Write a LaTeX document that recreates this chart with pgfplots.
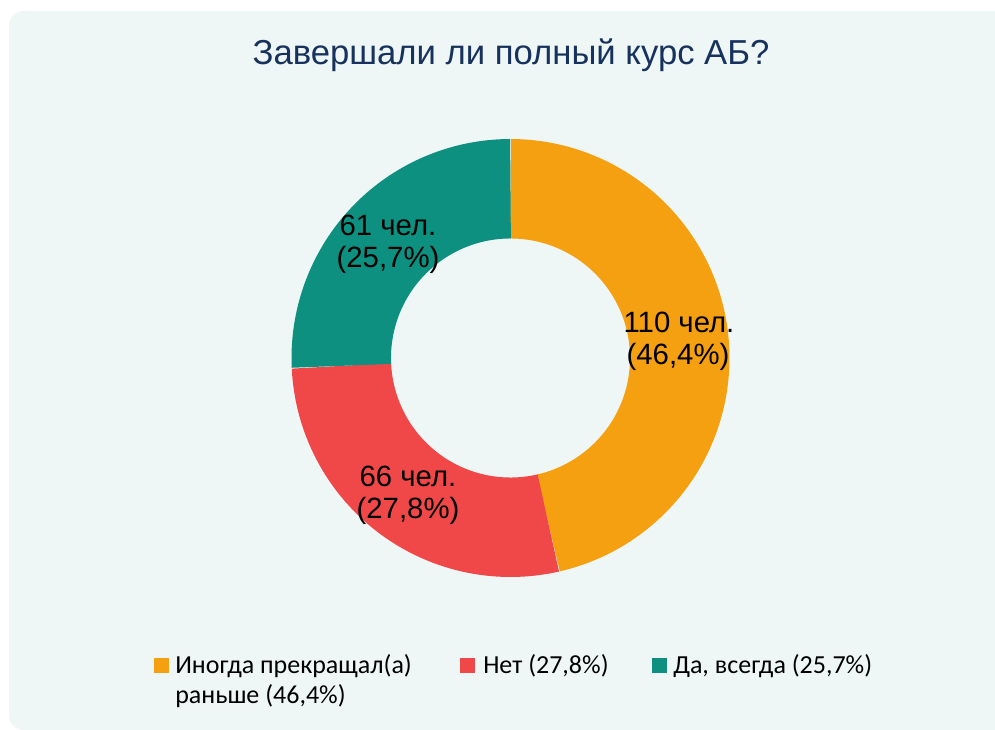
\documentclass[border=0pt]{standalone}
\usepackage{fontspec}
\setmainfont{Liberation Sans}
\newfontfamily\legfont{Carlito}
\usepackage{pgfplots}
\usepackage{pgfplotstable}
\pgfplotsset{compat=1.18}
\definecolor{bgc}{RGB}{239,247,246}
\definecolor{titlec}{RGB}{23,50,92}
\definecolor{orangec}{RGB}{244,160,16}
\definecolor{redc}{RGB}{240,72,72}
\definecolor{tealc}{RGB}{13,144,128}
\pgfplotstableread{
cat count
Inogda 110
Net 66
Da 61
}\datatable
\pgfplotstablegetelem{0}{count}\of\datatable \let\vA\pgfplotsretval
\pgfplotstablegetelem{1}{count}\of\datatable \let\vB\pgfplotsretval
\pgfplotstablegetelem{2}{count}\of\datatable \let\vC\pgfplotsretval
\pgfmathsetmacro\tot{\vA+\vB+\vC}
\pgfmathsetmacro\aA{90-\vA/\tot*360}
\pgfmathsetmacro\aB{\aA-\vB/\tot*360}
\pgfmathsetmacro\aC{\aB-\vC/\tot*360}
\begin{document}%
\begin{tikzpicture}
\useasboundingbox (0,0) rectangle (746.25pt,546.75pt);
\begin{axis}[x=0.75pt, y=0.75pt, xmin=0, xmax=995, ymin=0, ymax=729,
  hide axis, clip=true, anchor=origin, at={(0,0)}]
\fill[white] (axis cs:0,0) rectangle (axis cs:995,729);
\fill[bgc, rounded corners=11pt] (axis cs:9,-1) rectangle (axis cs:1020,718);
% donut ring: mid radius 169.25 px, thickness 99.5 px
\addplot[draw=orangec, line width=74.6pt, domain=\aA:90, samples=150] ({510.5+169.25*cos(x)},{371+169.25*sin(x)});
\addplot[draw=redc, line width=74.6pt, domain=\aB:\aA, samples=100] ({510.5+169.25*cos(x)},{371+169.25*sin(x)});
\addplot[draw=tealc, line width=74.6pt, domain=\aC:\aB, samples=100] ({510.5+169.25*cos(x)},{371+169.25*sin(x)});
% title
\node[anchor=base, text=titlec, font=\fontsize{26}{30}\selectfont] at (axis cs:511,664) {Завершали ли полный курс АБ?};
% data labels
\begin{scope}[every node/.style={anchor=base, font=\fontsize{22}{26}\selectfont}]
\node at (axis cs:388,493) {61 чел.};
\node at (axis cs:388,461) {(25,7\%)};
\node at (axis cs:679,396) {110 чел.};
\node at (axis cs:678,364) {(46,4\%)};
\node at (axis cs:408,243) {66 чел.};
\node at (axis cs:408,211) {(27,8\%)};
\end{scope}
% legend
\fill[orangec] (axis cs:154,56) rectangle (axis cs:169,71);
\fill[redc] (axis cs:460,56) rectangle (axis cs:475,71);
\fill[tealc] (axis cs:652,56) rectangle (axis cs:667,71);
\begin{scope}[every node/.style={anchor=base west, inner sep=0pt, font=\legfont\fontsize{19.5}{23}\selectfont}]
\node at (axis cs:175,56) {Иногда прекращал(а)};
\node at (axis cs:175,26) {раньше (46,4\%)};
\node at (axis cs:483,56) {Нет (27,8\%)};
\node at (axis cs:673,56) {Да, всегда (25,7\%)};
\end{scope}
\end{axis}
\end{tikzpicture}%
\end{document}
